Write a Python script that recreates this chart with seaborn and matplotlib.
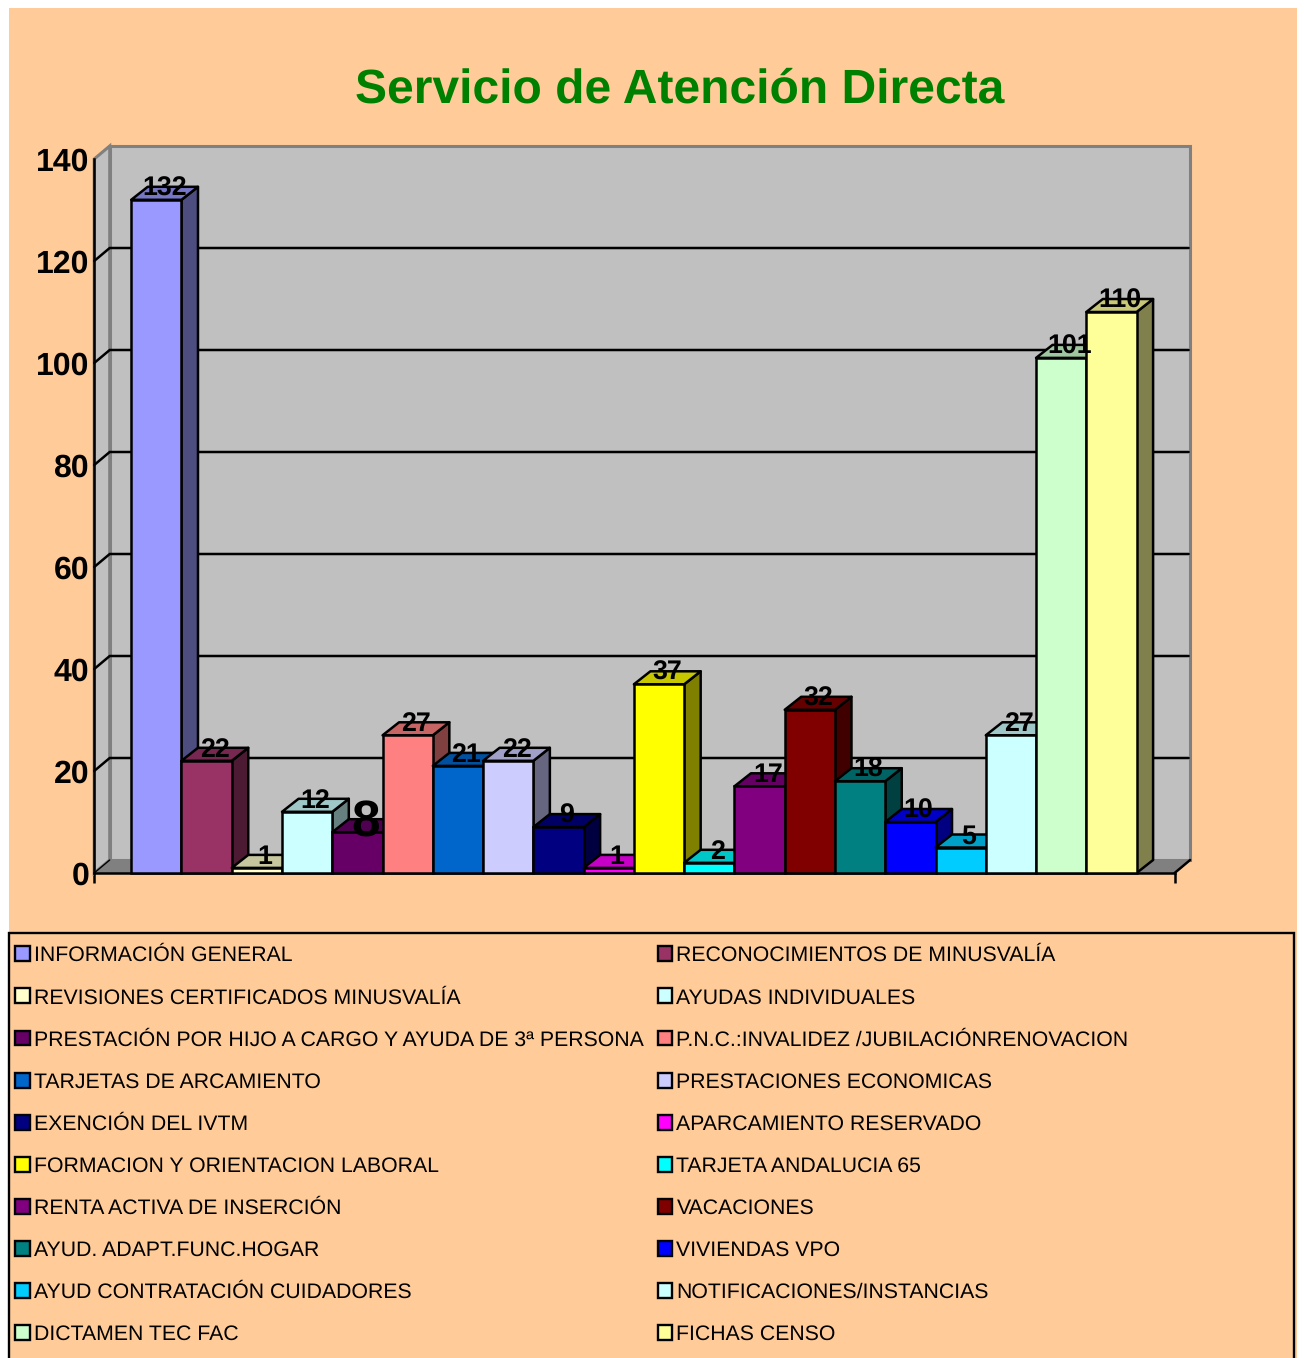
import matplotlib
matplotlib.use("Agg")
import matplotlib.pyplot as plt
import matplotlib.colors as mcolors
import pandas as pd
import seaborn as sns
from matplotlib.patches import Patch, Polygon, Rectangle

# Chart data
servicios = [
    "INFORMACIÓN GENERAL", "RECONOCIMIENTOS DE MINUSVALÍA",
    "REVISIONES CERTIFICADOS MINUSVALÍA", "AYUDAS INDIVIDUALES",
    "PRESTACIÓN POR HIJO A CARGO Y AYUDA DE 3ª PERSONA", "P.N.C.:INVALIDEZ /JUBILACIÓNRENOVACION",
    "TARJETAS DE ARCAMIENTO", "PRESTACIONES ECONOMICAS",
    "EXENCIÓN DEL IVTM", "APARCAMIENTO RESERVADO",
    "FORMACION Y ORIENTACION LABORAL", "TARJETA ANDALUCIA 65",
    "RENTA ACTIVA DE INSERCIÓN", "VACACIONES",
    "AYUD. ADAPT.FUNC.HOGAR", "VIVIENDAS VPO",
    "AYUD CONTRATACIÓN CUIDADORES", "NOTIFICACIONES/INSTANCIAS",
    "DICTAMEN TEC FAC", "FICHAS CENSO",
]
casos = [132, 22, 1, 12, 8, 27, 21, 22, 9, 1, 37, 2, 17, 32, 18, 10, 5, 27, 101, 110]
colores = [
    "#9999FF", "#993366", "#FFFFCC", "#CCFFFF", "#660066", "#FF8080", "#0066CC",
    "#CCCCFF", "#000080", "#FF00FF", "#FFFF00", "#00FFFF", "#800080", "#800000",
    "#008080", "#0000FF", "#00CCFF", "#CCFFFF", "#CCFFCC", "#FFFF99",
]
y_ticks = [0, 20, 40, 60, 80, 100, 120, 140]

W, H = 1304, 1358
PEACH = "#FFCC99"
WALL = "#C0C0C0"
EDGE = "#808080"
LW = 1.8

sns.set_theme(style="white")
plt.rcParams["font.family"] = ["Liberation Sans", "DejaVu Sans"]
plt.rcParams["text.hinting"] = "none"

fig = plt.figure(figsize=(W / 100, H / 100), dpi=100, facecolor="white")


def fx(px):
    return px / W


def fy(py):
    return 1 - py / H


# Peach background and the legend frame, which runs off the bottom
fig.patches.append(Rectangle((fx(9), fy(1358)), fx(1288), 1350 / H, transform=fig.transFigure,
                             facecolor=PEACH, edgecolor="none", zorder=-5))
fig.patches.append(Rectangle((fx(9), fy(1370)), fx(1285), 437 / H, transform=fig.transFigure,
                             facecolor=PEACH, edgecolor="black", linewidth=1.7, zorder=-4))

ax = fig.add_axes([fx(94.2), fy(873), fx(1080.4), 714 / H])
ax.patch.set_visible(False)

df = pd.DataFrame({"servicio": servicios, "casos": casos})
sns.barplot(data=df, x="servicio", y="casos", hue="servicio", palette=colores, saturation=1,
            dodge=False, width=1, legend=False, edgecolor="black", linewidth=LW, ax=ax)

# front plane pixels -> data
x_min, x_max = -0.5 - 37 / 50.25, 19.5 + 38 / 50.25
ax.set_xlim(x_min, x_max)
ax.set_ylim(0, 140)
dx = 16.5 / 50.25
dy = 13 / 5.1
wall_dx = 15.5 / 50.25

# Walls and floor of the 3D box
y_top = y_ticks[-1]
ax.add_patch(Polygon([(x_min + wall_dx, dy), (x_max + wall_dx, dy), (x_max + wall_dx, y_top + dy), (x_min + wall_dx, y_top + dy)],
                     closed=True, facecolor=WALL, edgecolor=EDGE, linewidth=2.2, zorder=1, clip_on=False))
ax.add_patch(Polygon([(x_min, 0), (x_min + wall_dx, dy), (x_min + wall_dx, y_top + dy), (x_min, y_top)],
                     closed=True, facecolor=WALL, edgecolor=EDGE, linewidth=2.2, zorder=1.1, clip_on=False))
ax.add_patch(Polygon([(x_min, 0), (x_max, 0), (x_max + wall_dx, dy), (x_min + wall_dx, dy)],
                     closed=True, facecolor=EDGE, edgecolor=EDGE, linewidth=1, zorder=1.2, clip_on=False))
ax.plot([x_max, x_max + wall_dx], [0, dy], color="black", lw=LW, zorder=1.3, clip_on=False)
ax.plot([x_min, x_min + wall_dx], [0, dy], color="black", lw=1, zorder=1.3, clip_on=False)

for v in y_ticks[1:-1]:
    ax.plot([x_min, x_min + wall_dx, x_max + wall_dx - 0.03], [v, v + dy, v + dy], color="black", lw=LW,
            zorder=2, clip_on=False, solid_joinstyle="miter")

# Side and top faces of each bar
bars = [p for c in ax.containers for p in c]
for i, (bar, color, value) in enumerate(zip(bars, colores, casos)):
    x0 = bar.get_x()
    x1 = x0 + bar.get_width()
    rgb = mcolors.to_rgb(color)
    top = tuple(c * 0.78 for c in rgb)
    side = tuple(c * 0.5 for c in rgb)
    ax.add_patch(Polygon([(x1, 0), (x1 + dx, dy), (x1 + dx, value + dy), (x1, value)], closed=True,
                         facecolor=side, edgecolor="black", linewidth=LW, zorder=10 + i, clip_on=False,
                         joinstyle="round"))
    ax.add_patch(Polygon([(x0, value), (x1, value), (x1 + dx, value + dy), (x0 + dx, value + dy)], closed=True,
                         facecolor=top, edgecolor="black", linewidth=LW, zorder=10 + i, clip_on=False,
                         joinstyle="round"))
    bar.set_zorder(10.5 + i)
    bar.set_clip_on(False)
    # the label of the 8 is much larger in the original
    size = 37 if value == 8 else 19.3
    shift = 0.75 if value == 8 else 0.35
    ax.text(i + dx / 2, value + dy - shift, str(value), ha="center", va="center", fontsize=size,
            fontweight="bold", color="black", zorder=50, clip_on=False)

# Axes
for name in ["top", "right"]:
    ax.spines[name].set_visible(False)
for name in ["left", "bottom"]:
    ax.spines[name].set_color("black")
    ax.spines[name].set_linewidth(LW)
ax.set_xlabel("")
ax.set_ylabel("")
ax.set_yticks(y_ticks)
ax.set_xticks([x_min, x_max])
ax.set_xticklabels(["", ""])
ax.tick_params(axis="x", bottom=True, length=7.5, width=LW, color="black")
ax.tick_params(axis="y", left=False, length=0, pad=3.5, labelsize=23)
for lab in ax.get_yticklabels():
    lab.set_fontweight("bold")
    lab.set_color("black")

fig.text(fx(680), fy(90), "Servicio de Atención Directa", ha="center", va="center",
         fontsize=34.6, fontweight="bold", color="#008000")

# Legend, two columns filled row by row
handles = [Patch(facecolor=c, edgecolor="black", linewidth=1.7) for c in colores]
order = list(range(0, 20, 2)) + list(range(1, 20, 2))
fig.legend([handles[i] for i in order], [servicios[i] for i in order], ncol=2, frameon=False,
           loc="upper left", bbox_to_anchor=(fx(15), fy(946)), borderaxespad=0, borderpad=0,
           fontsize=15.3, handlelength=0.7, handleheight=0.7, handletextpad=0.19,
           columnspacing=0.65, labelspacing=1.06, labelcolor="black")

fig.savefig("out.png", dpi=100, facecolor=fig.get_facecolor())
